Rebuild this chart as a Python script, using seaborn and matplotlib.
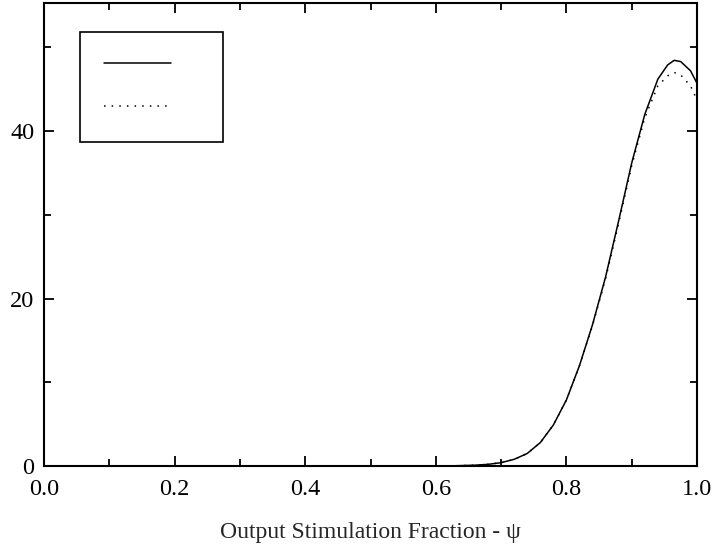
import pandas as pd
import matplotlib
matplotlib.use("Agg")
import matplotlib.pyplot as plt
import seaborn as sns
from matplotlib.ticker import MultipleLocator, FormatStrFormatter

# values
psi = [0.0, 0.1, 0.2, 0.3, 0.4, 0.5, 0.6, 0.63, 0.66, 0.68, 0.70, 0.72, 0.74,
       0.76, 0.78, 0.80, 0.82, 0.84, 0.86, 0.88, 0.90, 0.92, 0.94, 0.955,
       0.965, 0.975, 0.99, 1.0]
solid_vals = [0, 0, 0, 0, 0, 0, 0, 0.03, 0.1, 0.2, 0.4, 0.8, 1.5,
              2.8, 4.9, 7.9, 12.0, 16.9, 22.6, 29.3, 36.2, 42.0, 46.2, 47.9,
              48.45, 48.3, 47.2, 45.7]
dotted_vals = [0, 0, 0, 0, 0, 0, 0, 0.03, 0.1, 0.2, 0.4, 0.8, 1.5,
               2.8, 4.9, 7.9, 12.0, 16.8, 22.4, 29.0, 35.9, 41.6, 45.4, 46.6,
               47.0, 46.7, 45.4, 43.7]

df = pd.DataFrame({
    "psi": psi * 2,
    "value": solid_vals + dotted_vals,
    "series": ["a"] * len(psi) + ["b"] * len(psi),
})

sns.set_theme(style="ticks")
plt.rcParams["font.family"] = ["Liberation Serif", "DejaVu Serif"]

fig = plt.figure(figsize=(7.12, 5.48), dpi=100)
ax = fig.add_axes([0.0618, 0.1496, 0.9172, 0.845])

sns.lineplot(data=df, x="psi", y="value", style="series",
             dashes={"a": "", "b": (1, 4)}, color="black", linewidth=1.1,
             legend=False, ax=ax)

ax.set_xlim(0, 1.0)
ax.set_ylim(0, 55.3)
ax.xaxis.set_major_locator(MultipleLocator(0.2))
ax.xaxis.set_minor_locator(MultipleLocator(0.1))
ax.yaxis.set_major_locator(MultipleLocator(20))
ax.yaxis.set_minor_locator(MultipleLocator(10))
ax.xaxis.set_major_formatter(FormatStrFormatter("%.1f"))

ax.tick_params(which="both", direction="in", top=True, right=True,
               labelsize=17.5, colors="black", width=1.3)
ax.tick_params(axis="x", which="both", pad=9)
ax.tick_params(axis="y", which="both", pad=7)
ax.tick_params(which="major", length=7)
ax.tick_params(which="minor", length=5)
for s in ax.spines.values():
    s.set_linewidth(1.5)
    s.set_color("black")

ax.set_xlabel("Output Stimulation Fraction - ψ", fontsize=17, labelpad=16)
ax.set_ylabel("")

leg = ax.legend(ax.lines[:2], ["   ", "   "], loc="upper left",
                bbox_to_anchor=(0.055, 0.937), borderaxespad=0,
                fontsize=15, handlelength=3.2, labelspacing=1.1,
                borderpad=1.15, handletextpad=0.6, fancybox=False,
                framealpha=1, edgecolor="black")
leg.get_frame().set_linewidth(1.2)

fig.savefig("out.png", dpi=100)
